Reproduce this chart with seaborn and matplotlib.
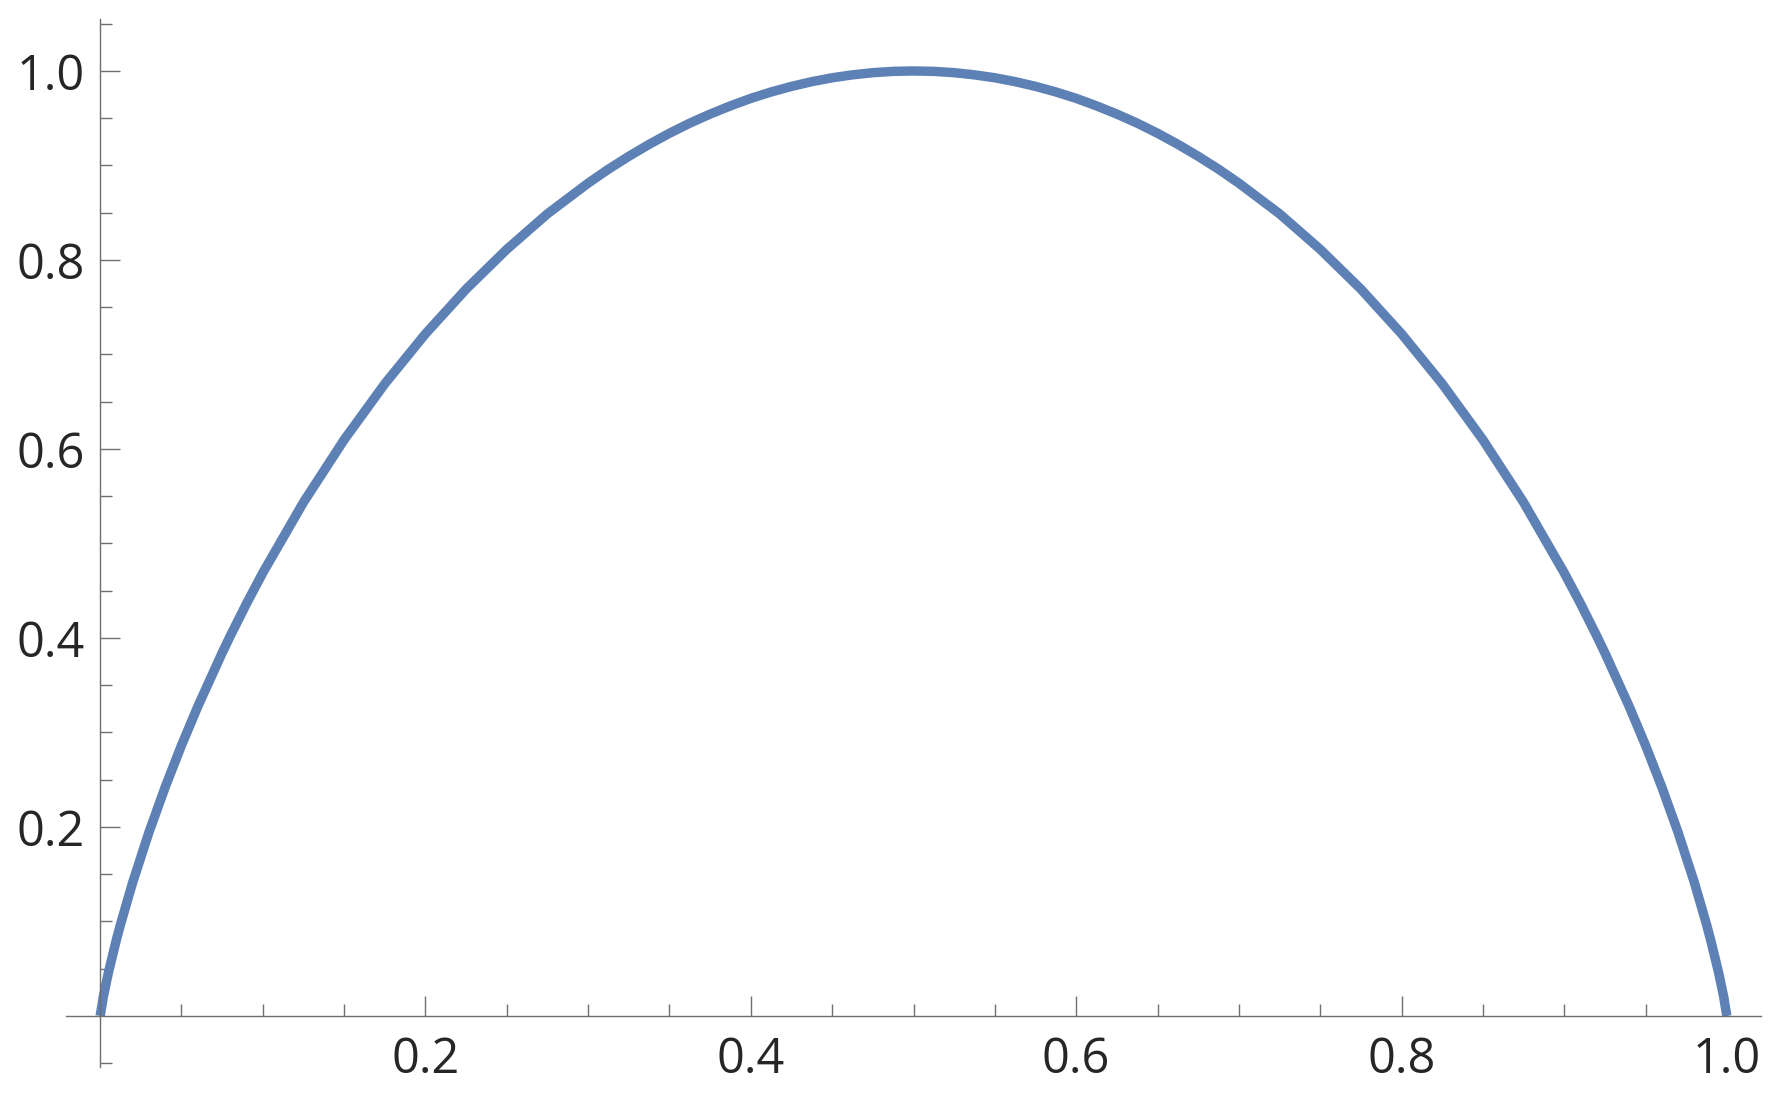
import matplotlib
matplotlib.use("Agg")
import matplotlib.pyplot as plt
import seaborn as sns
import pandas as pd

# values
x_vals = [0.0, 0.002, 0.005, 0.01, 0.0125, 0.02, 0.03, 0.04, 0.05, 0.06, 0.075, 0.08, 0.09, 0.1,
          0.125, 0.15, 0.175, 0.2, 0.225, 0.25, 0.275, 0.3, 0.3125, 0.325, 0.3375, 0.35, 0.3625, 0.375, 0.3875,
          0.4, 0.4125, 0.425, 0.4375, 0.45, 0.4625, 0.475, 0.4875, 0.5,
          0.5125, 0.525, 0.5375, 0.55, 0.5625, 0.575, 0.5875, 0.6, 0.6125, 0.625, 0.6375, 0.65, 0.6625, 0.675, 0.6875,
          0.7, 0.725, 0.75, 0.775, 0.8, 0.825, 0.85, 0.875,
          0.9, 0.91, 0.92, 0.925, 0.94, 0.95, 0.96, 0.97, 0.98, 0.9875, 0.99, 0.995, 0.998, 1.0]
y_vals = [0.0, 0.0208, 0.0454, 0.0808, 0.0969, 0.1414, 0.1944, 0.2423, 0.2864, 0.3274, 0.3843, 0.4022, 0.4365, 0.469,
          0.5436, 0.6098, 0.6690, 0.7219, 0.7692, 0.8113, 0.8489, 0.8813, 0.8961, 0.9097, 0.9224, 0.9341, 0.9448, 0.9544, 0.9631,
          0.971, 0.9778, 0.9837, 0.9887, 0.9928, 0.9959, 0.9982, 0.9996, 1.0,
          0.9996, 0.9982, 0.9959, 0.9928, 0.9887, 0.9837, 0.9778, 0.971, 0.9631, 0.9544, 0.9448, 0.9341, 0.9224, 0.9097, 0.8961,
          0.8813, 0.8489, 0.8113, 0.7692, 0.7219, 0.6690, 0.6098, 0.5436,
          0.469, 0.4365, 0.4022, 0.3843, 0.3274, 0.2864, 0.2423, 0.1944, 0.1414, 0.0969, 0.0808, 0.0454, 0.0208, 0.0]

x_major = [0.2, 0.4, 0.6, 0.8, 1.0]
y_major = [0.2, 0.4, 0.6, 0.8, 1.0]
x_minor = [0.05, 0.1, 0.15, 0.25, 0.3, 0.35, 0.45, 0.5, 0.55, 0.65, 0.7, 0.75, 0.85, 0.9, 0.95]
y_minor = [-0.05, 0.05, 0.1, 0.15, 0.25, 0.3, 0.35, 0.45, 0.5, 0.55, 0.65, 0.7, 0.75, 0.85, 0.9, 0.95, 1.05]
x_labels = ["0.2", "0.4", "0.6", "0.8", "1.0"]
y_labels = ["0.2", "0.4", "0.6", "0.8", "1.0"]

sns.set_style("white")
plt.rcParams['font.family'] = ['Open Sans', 'DejaVu Sans']

df = pd.DataFrame({"x": x_vals, "y": y_vals})

fig = plt.figure(figsize=(17.81, 10.99), dpi=100)
ax = fig.add_axes([66/1781, 32/1099, 1695/1781, 1048/1099])
sns.lineplot(data=df, x="x", y="y", ax=ax, sort=False, estimator=None,
             color="#5E81B5", linewidth=6.8, solid_capstyle="butt", solid_joinstyle="round")

ax.set_xlim(-0.021, 1.021)
ax.set_ylim(-0.054, 1.055)
axis_color = "#6e6e6e"
for s in ["top", "right"]:
    ax.spines[s].set_visible(False)
ax.spines["left"].set_position(("data", 0))
ax.spines["bottom"].set_position(("data", 0))
for s in ["left", "bottom"]:
    ax.spines[s].set_color(axis_color)
    ax.spines[s].set_linewidth(1.0)

ax.set_xticks(x_major)
ax.set_xticklabels(x_labels)
ax.set_yticks(y_major)
ax.set_yticklabels(y_labels)
ax.set_xticks(x_minor, minor=True)
ax.set_yticks(y_minor, minor=True)
ax.tick_params(which="both", left=True, bottom=True, top=False, right=False)
ax.tick_params(which="major", direction="in", length=14.4, width=1.0, color=axis_color,
               labelsize=35, labelcolor="#262626")
ax.tick_params(which="minor", direction="in", length=8.8, width=1.0, color=axis_color)
ax.tick_params(axis="x", which="major", pad=14)
ax.tick_params(axis="y", which="major", pad=11)
ax.set_xlabel("")
ax.set_ylabel("")
ax.grid(False)

fig.savefig("out.png", dpi=100, facecolor="white")
